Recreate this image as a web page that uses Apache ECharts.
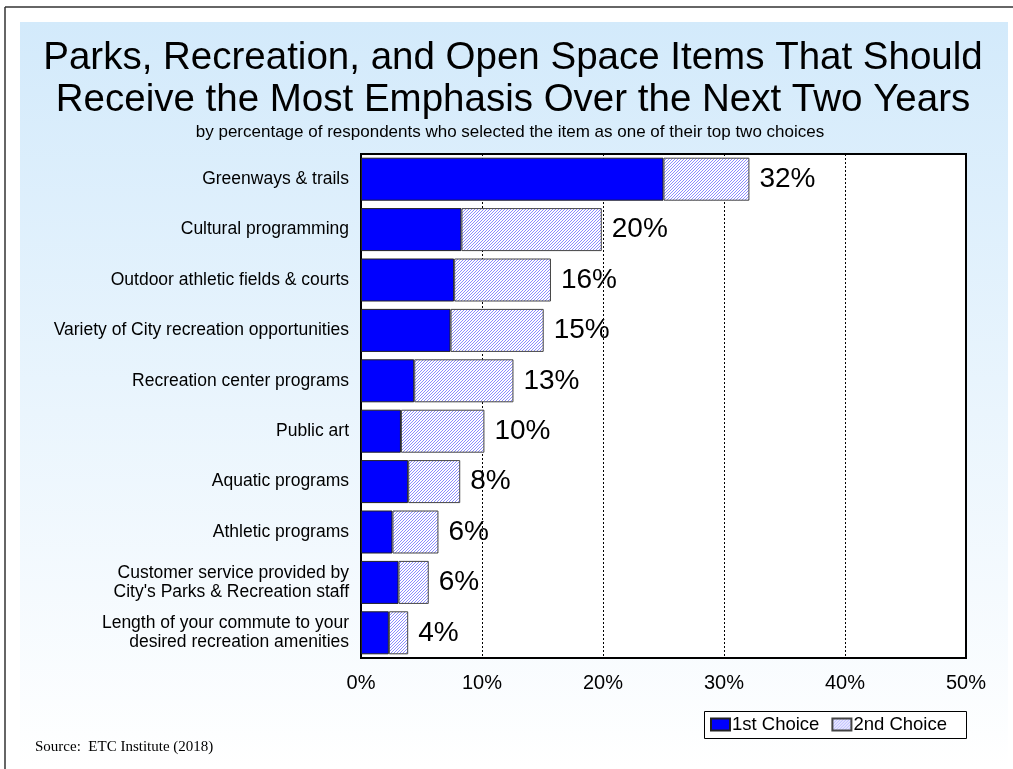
<!DOCTYPE html>
<html>
<head>
<meta charset="utf-8">
<script src="https://cdn.jsdelivr.net/npm/echarts@6/dist/echarts.min.js"></script>
<style>html,body{margin:0;padding:0;background:#fff}#c{width:1013px;height:769px}</style>
</head>
<body>
<div id="c"></div>
<script>
const categories = [
  "Greenways & trails",
  "Cultural programming",
  "Outdoor athletic fields & courts",
  "Variety of City recreation opportunities",
  "Recreation center programs",
  "Public art",
  "Aquatic programs",
  "Athletic programs",
  "Customer service provided by\nCity's Parks & Recreation staff",
  "Length of your commute to your\ndesired recreation amenities"
];
const firstChoice = [25.0, 8.3, 7.7, 7.4, 4.4, 3.3, 3.9, 2.6, 3.1, 2.3];
const secondChoice = [7.1, 11.6, 8.0, 7.7, 8.2, 6.9, 4.3, 3.8, 2.5, 1.6];
const totalLabels = ["32%", "20%", "16%", "15%", "13%", "10%", "8%", "6%", "6%", "4%"];
const xTicks = [0, 10, 20, 30, 40, 50];

function hatch() {
  const n = 3;
  const c = document.createElement('canvas');
  c.width = n; c.height = n;
  const g = c.getContext('2d');
  g.fillStyle = '#ffffff';
  g.fillRect(0, 0, n, n);
  g.fillStyle = '#8c8cff';
  for (let i = 0; i < n; i++) {
    g.fillRect(i, n - 1 - i, 1, 1);
  }
  return c;
}
const pattern = { image: hatch(), repeat: 'repeat' };
const FONT = '"Liberation Sans", Arial, sans-serif';

const chart = echarts.init(document.getElementById('c'));
chart.setOption({
  animation: false,
  textStyle: { fontFamily: 'Liberation Sans, Arial, sans-serif' },
  graphic: [
    { type: 'rect', z: -10, silent: true,
      shape: { x: 20, y: 22, width: 988, height: 747 },
      style: { fill: new echarts.graphic.LinearGradient(0, 0, 0, 1, [
        { offset: 0, color: '#d3eafb' }, { offset: 1, color: '#ffffff' }]) } },
    { type: 'line', z: 10, silent: true, shape: { x1: 5, y1: 7, x2: 1013, y2: 7 }, style: { stroke: '#333', lineWidth: 1.5 } },
    { type: 'line', z: 10, silent: true, shape: { x1: 5, y1: 7, x2: 5, y2: 769 }, style: { stroke: '#333', lineWidth: 1.5 } },
    { type: 'text', silent: true, style: {
        x: 513, y: 37, textAlign: 'center', textVerticalAlign: 'top',
        text: 'Parks, Recreation, and Open Space Items That Should\nReceive the Most Emphasis Over the Next Two Years',
        font: '38.5px ' + FONT, fill: '#000', lineHeight: 42 } },
    { type: 'text', silent: true, style: {
        x: 510, y: 124, textAlign: 'center', textVerticalAlign: 'top',
        text: 'by percentage of respondents who selected the item as one of their top two choices',
        font: '17px ' + FONT, fill: '#000' } },
    { type: 'text', silent: true, style: {
        x: 35, y: 740,
        text: 'Source:  ETC Institute (2018)',
        font: '15px "Liberation Serif", "Times New Roman", serif', fill: '#000' } },
    { type: 'rect', z: 5, silent: true,
      shape: { x: 704.5, y: 711.5, width: 262, height: 27 },
      style: { fill: '#fff', stroke: '#000', lineWidth: 1 } }
  ],
  legend: {
    left: 705, top: 713, z: 10,
    data: ['1st Choice', '2nd Choice'],
    padding: [2, 2, 2, 5], itemGap: 12, itemWidth: 19, itemHeight: 12,
    icon: 'rect',
    textStyle: { fontSize: 18.5, color: '#000', padding: [1, 0, 0, -3] }
  },
  grid: { left: 361, right: 47, top: 154, bottom: 111, show: true,
    backgroundColor: '#fff', borderColor: '#000', borderWidth: 2 },
  xAxis: {
    type: 'value', min: 0, max: 50, interval: 10,
    axisLine: { show: false }, axisTick: { show: false },
    axisLabel: { formatter: v => xTicks.includes(v) ? v + '%' : '', fontSize: 20, color: '#000', margin: 15 },
    splitLine: { show: true, lineStyle: { type: [2, 2], color: '#000', width: 1 } }
  },
  yAxis: {
    type: 'category', data: categories, inverse: true,
    axisLine: { show: false }, axisTick: { show: false },
    axisLabel: { fontSize: 17.5, color: '#000', margin: 12, lineHeight: 19, align: 'right' }
  },
  series: [
    { name: '1st Choice', type: 'bar', stack: 'a', data: firstChoice, barWidth: 43,
      itemStyle: { color: '#0000ff', borderColor: '#222', borderWidth: 1 } },
    { name: '2nd Choice', type: 'bar', stack: 'a', data: secondChoice, barWidth: 43,
      itemStyle: { color: pattern, borderColor: '#444', borderWidth: 1 },
      label: { show: true, position: 'right', distance: 10, fontSize: 28, color: '#000',
        formatter: p => totalLabels[p.dataIndex] } }
  ]
});
</script>
</body>
</html>
